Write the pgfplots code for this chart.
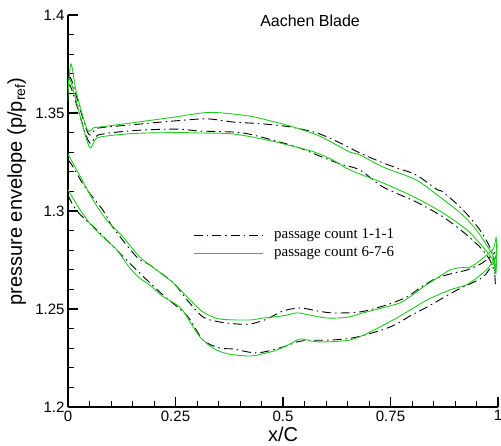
\documentclass[border=0pt]{standalone}
\usepackage{fontspec}
\setmainfont{Liberation Sans}
\newfontfamily\tnr{Liberation Serif}
\usepackage{pgfplots}
\pgfplotsset{compat=1.18}
\definecolor{tgreen}{RGB}{30,205,30}

\begin{document}
\begin{tikzpicture}
\begin{axis}[
  scale only axis, width=430pt, height=392pt,
  xmin=0, xmax=1, ymin=1.2, ymax=1.4,
  axis x line=bottom, axis y line=left,
  axis line style={-, line width=1.2pt},
  xtick={0,0.25,0.5,0.75,1}, xticklabels={0,0.25,0.5,0.75,1},
  ytick={1.2,1.25,1.3,1.35,1.4}, yticklabels={1.2,1.25,1.3,1.35,1.4},
  minor x tick num=4, minor y tick num=4,
  tick align=inside,
  major tick length=10pt, minor tick length=6pt,
  major tick style={line width=1.2pt, black},
  minor tick style={line width=0.8pt, black},
  tick label style={font=\fontsize{15}{18}\selectfont},
  /pgf/number format/assume math mode=true,
  xlabel={x/C}, ylabel={pressure envelope (p/p\textsubscript{ref})},
  xlabel style={at={(axis description cs:0.5,-0.071)}, anchor=center, font=\fontsize{20}{24}\selectfont},
  ylabel style={at={(axis description cs:-0.119,0.55)}, anchor=center, font=\fontsize{20}{24}\selectfont},
  legend style={at={(axis description cs:0.2907,0.4158)}, anchor=west, draw=none, fill=none,
    inner sep=0pt, row sep=3pt,
    nodes={inner sep=1pt, text height=10pt, text depth=3pt},
    /tikz/every odd column/.append style={column sep=10pt},
    font=\tnr\fontsize{15}{18}\selectfont},
  legend cell align=left,
  legend image code/.code={\draw[#1, sharp plot] (0pt,0pt) -- (69pt,0pt);},
  bk/.style={black, line width=0.9pt, dash pattern=on 9pt off 4pt on 1.5pt off 4pt, smooth, tension=0.5},
  gr/.style={tgreen, line width=0.9pt, smooth, tension=0.5},
]
% passage count 1-1-1, upper loop
\addplot[bk] coordinates {(0,1.358)(0.006,1.368)(0.046,1.340)(0.07,1.3423)(0.15,1.344)(0.25,1.346)(0.323,1.347)(0.384,1.3454)(0.45,1.3445)(0.516,1.3429)(0.579,1.3398)(0.633,1.3347)(0.679,1.3296)(0.733,1.3245)(0.772,1.3214)(0.81,1.3184)(0.858,1.311)(0.872,1.3097)(0.919,1.3005)(0.958,1.2903)(0.981,1.2816)(0.99,1.275)(0.994,1.262)};
\addlegendentry{passage count 1-1-1}
\addplot[bk, forget plot] coordinates {(0,1.354)(0.005,1.364)(0.048,1.3355)(0.07,1.3388)(0.15,1.341)(0.25,1.3418)(0.307,1.3408)(0.407,1.3398)(0.5,1.3347)(0.54,1.3321)(0.579,1.3286)(0.633,1.324)(0.679,1.3209)(0.733,1.3122)(0.81,1.3046)(0.872,1.297)(0.919,1.2893)(0.958,1.2816)(0.981,1.275)(0.993,1.268)};
% passage count 1-1-1, lower loop
\addplot[bk, forget plot] coordinates {(0,1.326)(0.009,1.3235)(0.04,1.312)(0.081,1.3005)(0.105,1.2915)(0.16,1.2765)(0.19,1.2725)(0.245,1.2633)(0.277,1.2546)(0.314,1.2459)(0.35,1.2435)(0.384,1.2425)(0.423,1.2423)(0.463,1.2449)(0.5,1.249)(0.54,1.2505)(0.58,1.249)(0.616,1.248)(0.679,1.2485)(0.74,1.252)(0.788,1.2561)(0.82,1.261)(0.858,1.2658)(0.9,1.2685)(0.928,1.2699)(0.96,1.273)(0.981,1.2765)(0.993,1.279)};
\addplot[bk, forget plot] coordinates {(0,1.308)(0.021,1.300)(0.074,1.2888)(0.152,1.2715)(0.214,1.2585)(0.277,1.2465)(0.314,1.2342)(0.353,1.2301)(0.384,1.2296)(0.44,1.2276)(0.5,1.2306)(0.532,1.2332)(0.56,1.234)(0.616,1.2342)(0.672,1.2357)(0.749,1.2408)(0.8,1.247)(0.835,1.251)(0.905,1.2597)(0.965,1.2663)(0.988,1.2735)(0.995,1.277)};
% passage count 6-7-6, upper loop
\addplot[gr] coordinates {(0,1.360)(0.007,1.375)(0.02,1.360)(0.045,1.3415)(0.06,1.3425)(0.08,1.343)(0.15,1.345)(0.25,1.348)(0.33,1.3503)(0.42,1.3485)(0.47,1.346)(0.516,1.3434)(0.579,1.3388)(0.616,1.3347)(0.656,1.330)(0.679,1.3286)(0.733,1.3224)(0.81,1.3158)(0.865,1.3071)(0.912,1.299)(0.95,1.2903)(0.981,1.280)(0.99,1.276)(0.994,1.270)(0.997,1.286)};
\addlegendentry{passage count 6-7-6}
\addplot[gr, forget plot] coordinates {(0,1.356)(0.005,1.367)(0.048,1.3335)(0.07,1.3375)(0.15,1.3395)(0.25,1.340)(0.307,1.3398)(0.384,1.3393)(0.463,1.3362)(0.54,1.3321)(0.579,1.3296)(0.616,1.326)(0.656,1.3209)(0.733,1.3143)(0.81,1.3066)(0.872,1.299)(0.928,1.2903)(0.965,1.2816)(0.988,1.275)(0.995,1.268)(0.998,1.283)};
% passage count 6-7-6, lower loop
\addplot[gr, forget plot] coordinates {(0,1.329)(0.03,1.317)(0.06,1.305)(0.09,1.2954)(0.128,1.2867)(0.167,1.2765)(0.206,1.2699)(0.245,1.2633)(0.284,1.2546)(0.314,1.2485)(0.353,1.2449)(0.423,1.2444)(0.453,1.2454)(0.5,1.2465)(0.532,1.248)(0.56,1.247)(0.602,1.2454)(0.65,1.2458)(0.686,1.248)(0.73,1.2505)(0.772,1.2531)(0.8,1.257)(0.826,1.2612)(0.86,1.266)(0.888,1.2699)(0.91,1.271)(0.935,1.2714)(0.96,1.275)(0.981,1.279)(0.99,1.281)(0.996,1.287)};
\addplot[gr, forget plot] coordinates {(0,1.311)(0.005,1.309)(0.03,1.300)(0.058,1.2918)(0.09,1.285)(0.114,1.2801)(0.14,1.272)(0.165,1.266)(0.19,1.2622)(0.22,1.2565)(0.26,1.251)(0.285,1.243)(0.307,1.2357)(0.337,1.2301)(0.37,1.2272)(0.423,1.226)(0.46,1.2275)(0.486,1.2291)(0.515,1.232)(0.54,1.2347)(0.57,1.2335)(0.6,1.2332)(0.656,1.2342)(0.7,1.238)(0.756,1.2444)(0.8,1.25)(0.835,1.2546)(0.888,1.2597)(0.928,1.2625)(0.965,1.2684)(0.985,1.273)(0.998,1.2786)};
\node[font=\fontsize{16}{19}\selectfont] at (axis description cs:0.563,0.985) {Aachen Blade};
\end{axis}
\pgfresetboundingbox
\useasboundingbox (-68pt,-39pt) rectangle (433pt,407pt);
\end{tikzpicture}
\end{document}
